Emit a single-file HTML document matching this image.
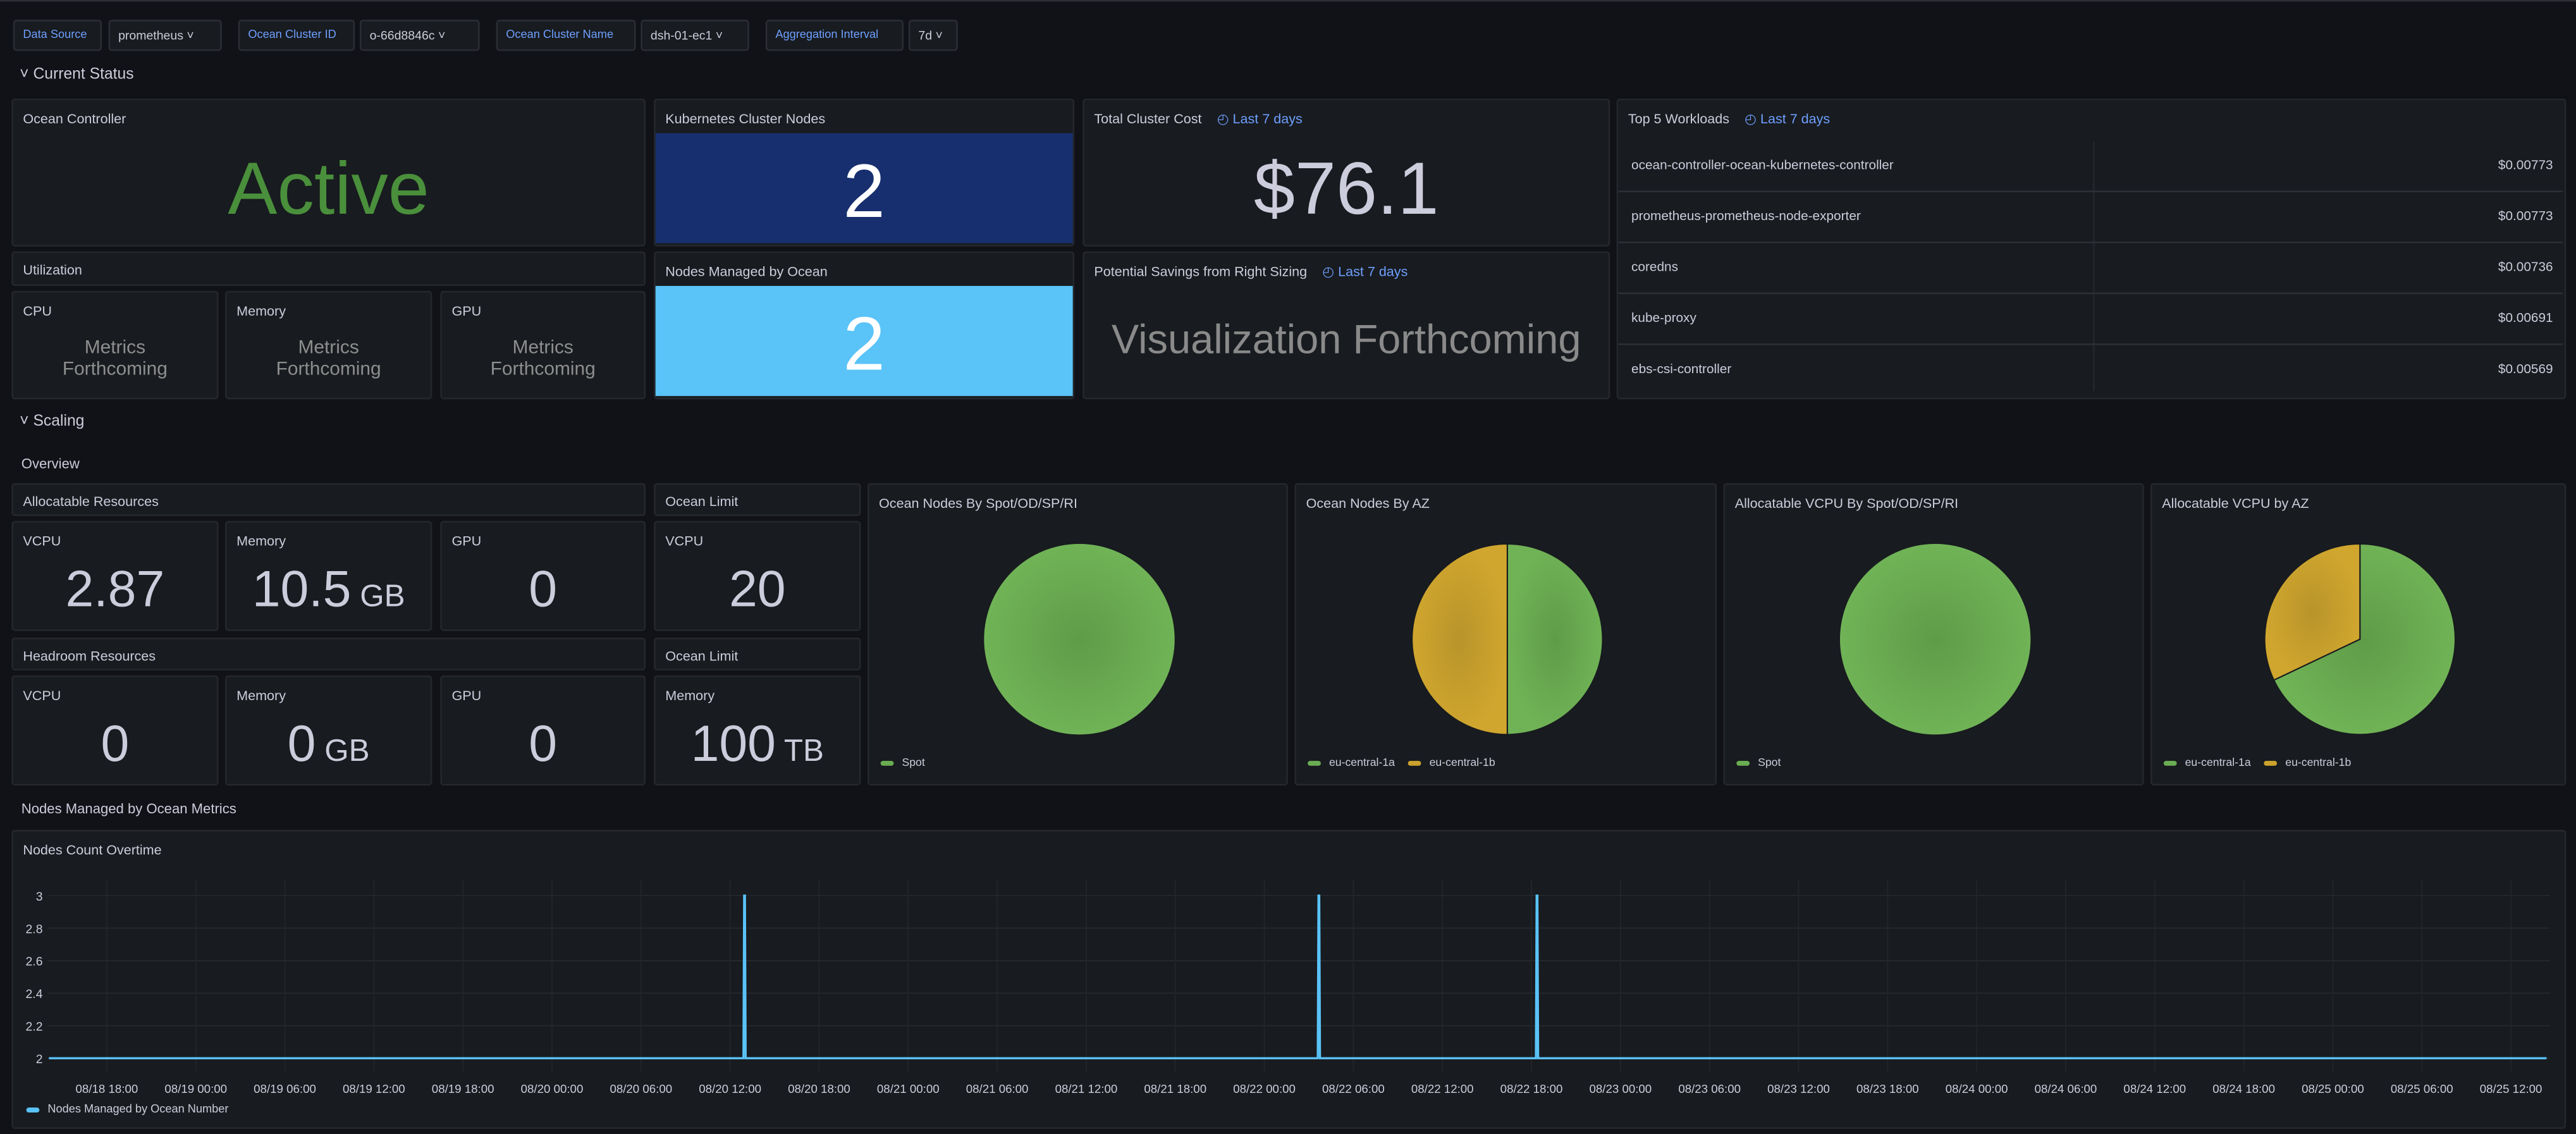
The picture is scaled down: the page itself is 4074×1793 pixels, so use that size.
<!DOCTYPE html>
<html><head><meta charset="utf-8">
<style>
html,body{margin:0;padding:0;background:#111217;width:4074px;height:1792px;overflow:hidden}
#root{position:absolute;left:0;top:0;width:1568px;height:690px;transform:scale(2.5982);transform-origin:0 0;font-family:"Liberation Sans",sans-serif;color:#ccccdc}
.p{position:absolute;background:#181b1f;border:1px solid #24272c;border-radius:2px;box-sizing:border-box}
.t{position:absolute;left:6px;top:6px;font-size:8.3px;color:#ccccdc;white-space:nowrap}
.lk{color:#6e9fff;margin-left:7px}
.v{position:absolute;left:0;right:0;text-align:center;color:#ccccdc}
.var{position:absolute;top:12px;height:19px;box-sizing:border-box;border:1px solid #2a2d33;background:#181b1f;font-size:7.5px;line-height:17px;padding:0 5px;border-radius:2px;white-space:nowrap}
.vl{color:#6e9fff;font-size:7px}
.row{position:absolute;font-size:10px;color:#ccccdc}
.sec{position:absolute;left:12px;font-size:9.5px;color:#ccccdc}
.leg{position:absolute;font-size:6.8px;color:#ccccdc;white-space:nowrap}
.sw{display:inline-block;width:8px;height:3px;border-radius:2px;margin-right:5px;vertical-align:middle}
</style></head><body>
<div id="root">
<div style="position:absolute;left:0;top:0;width:1568px;height:1px;background:#2a2d33"></div>
<div class="var vl" style="left:8px;width:54px">Data Source</div>
<div class="var" style="left:66px;width:69px">prometheus ˅</div>
<div class="var vl" style="left:145px;width:71px">Ocean Cluster ID</div>
<div class="var" style="left:219px;width:73px">o-66d8846c ˅</div>
<div class="var vl" style="left:302px;width:85px">Ocean Cluster Name</div>
<div class="var" style="left:390px;width:66px">dsh-01-ec1 ˅</div>
<div class="var vl" style="left:466px;width:84px">Aggregation Interval</div>
<div class="var" style="left:553px;width:30px">7d ˅</div>

<div class="sec" style="top:40px">˅ Current Status</div>

<div class="p" style="left:7px;top:60px;width:386px;height:90px"><div class="t">Ocean Controller</div><div class="v" style="top:28px;font-size:45px;color:#4a8f3c">Active</div></div>
<div class="p" style="left:398px;top:60px;width:256px;height:90px"><div class="t">Kubernetes Cluster Nodes</div><div style="position:absolute;left:0;right:0;top:20px;bottom:1px;background:#172f6e"></div><div class="v" style="top:28px;font-size:46px;color:#fff">2</div></div>
<div class="p" style="left:659px;top:60px;width:321px;height:90px"><div class="t">Total Cluster Cost <span class="lk">◴ Last 7 days</span></div><div class="v" style="top:28px;font-size:45px">$76.1</div></div>
<div class="p" style="left:984px;top:60px;width:578px;height:183px"><div class="t">Top 5 Workloads <span class="lk">◴ Last 7 days</span></div>
<div style="position:absolute;left:289px;top:25px;width:1px;height:152px;background:#24272c"></div>
<div id="wl"></div></div>

<div class="p" style="left:7px;top:153px;width:386px;height:21px"><div class="t" style="top:5px">Utilization</div></div>
<div class="p" style="left:7px;top:177px;width:126px;height:66px"><div class="t">CPU</div><div class="v" style="top:28px;font-size:11.5px;color:#8e8e8e;line-height:13px">Metrics<br>Forthcoming</div></div>
<div class="p" style="left:137px;top:177px;width:126px;height:66px"><div class="t">Memory</div><div class="v" style="top:28px;font-size:11.5px;color:#8e8e8e;line-height:13px">Metrics<br>Forthcoming</div></div>
<div class="p" style="left:268px;top:177px;width:125px;height:66px"><div class="t">GPU</div><div class="v" style="top:28px;font-size:11.5px;color:#8e8e8e;line-height:13px">Metrics<br>Forthcoming</div></div>
<div class="p" style="left:398px;top:153px;width:256px;height:90px"><div class="t">Nodes Managed by Ocean</div><div style="position:absolute;left:0;right:0;top:20px;bottom:1px;background:#5ac3f8"></div><div class="v" style="top:28px;font-size:46px;color:#fff">2</div></div>
<div class="p" style="left:659px;top:153px;width:321px;height:90px"><div class="t">Potential Savings from Right Sizing <span class="lk">◴ Last 7 days</span></div><div class="v" style="top:39px;font-size:25px;color:#8a8a8a">Visualization Forthcoming</div></div>

<div class="sec" style="top:251px">˅ Scaling</div>
<div class="sec" style="top:277px;left:13px;font-size:8.5px">Overview</div>

<div class="p" style="left:7px;top:294px;width:386px;height:20px"><div class="t" style="top:5px">Allocatable Resources</div></div>
<div class="p" style="left:398px;top:294px;width:126px;height:20px"><div class="t" style="top:5px">Ocean Limit</div></div>
<div class="p" style="left:7px;top:388px;width:386px;height:20px"><div class="t" style="top:5px">Headroom Resources</div></div>
<div class="p" style="left:398px;top:388px;width:126px;height:20px"><div class="t" style="top:5px">Ocean Limit</div></div>
<div id="stats"></div>

<div id="pies"></div>

<div class="sec" style="top:487px;left:13px;font-size:8.5px">Nodes Managed by Ocean Metrics</div>
<div class="p" style="left:7px;top:505px;width:1555px;height:182px"><div class="t">Nodes Count Overtime</div></div>
<svg id="chart" style="position:absolute;left:0;top:0" width="1568" height="690"></svg>
<div class="leg" style="left:16px;top:672px;font-size:7px"><span class="sw" style="background:#5ac3f8"></span>Nodes Managed by Ocean Number</div>
</div>
<script>
const wlNames=["ocean-controller-ocean-kubernetes-controller","prometheus-prometheus-node-exporter","coredns","kube-proxy","ebs-csi-controller"];
const wlVals=["$0.00773","$0.00773","$0.00736","$0.00691","$0.00569"];
const wl=document.getElementById('wl');
wlNames.forEach((n,i)=>{
  const y=25+i*31;
  const r=document.createElement('div');r.className='row';r.style.cssText=`left:0;top:${y}px;width:575px;height:31px;border-bottom:${i<4?'1px solid #2c2f35':'none'};box-sizing:border-box`;
  
  
  r.innerHTML=`<span style="position:absolute;left:8px;top:10px;font-size:8px">${n}</span><span style="position:absolute;right:6px;top:10px;font-size:8px">${wlVals[i]}</span>`;
  wl.appendChild(r);
});
const statTitles=["VCPU","Memory","GPU","VCPU","VCPU","Memory","GPU","Memory"];
const statVals=["2.87","10.5","0","20","0","0","0","100"];
const statUnits=["","GB","","","","GB","","TB"];
const sx=[7,137,268,398],sw=[126,126,125,126],sy=[317,411];
const st=document.getElementById('stats');
statTitles.forEach((t,i)=>{
  const c=i%4,r=Math.floor(i/4);
  const d=document.createElement('div');d.className='p';
  d.style.cssText=`left:${sx[c]}px;top:${sy[r]}px;width:${sw[c]}px;height:67px`;
  
  
  d.innerHTML=`<div class="t">${t}</div><div class="v" style="top:23px;font-size:31px">${statVals[i]}${statUnits[i]?'<span style="font-size:19px"> '+statUnits[i]+'</span>':''}</div>`;
  st.appendChild(d);
});
const pieTitles=["Ocean Nodes By Spot/OD/SP/RI","Ocean Nodes By AZ","Allocatable VCPU By Spot/OD/SP/RI","Allocatable VCPU by AZ"];
const pieLabels=[["Spot"],["eu-central-1a","eu-central-1b"],["Spot"],["eu-central-1a","eu-central-1b"]];
const pieValues=[[2],[1,1],[2.87],[1.95,0.92]];
const pieColors=["#6aad52","#cba22c"];
const px=[528,788,1049,1309],pw=[256,257,256,253];
const pies=document.getElementById('pies');
pieTitles.forEach((t,i)=>{
  const d=document.createElement('div');d.className='p';
  d.style.cssText=`left:${px[i]}px;top:294px;width:${pw[i]}px;height:184px`;
  
  
  const cx=pw[i]/2,cy=94,R=58;
  const tot=pieValues[i].reduce((a,b)=>a+b,0);
  let a0=0,svg=`<svg width="${pw[i]}" height="184" style="position:absolute;left:0;top:0"><defs><radialGradient id="g${i}0"><stop offset="0" stop-color="#5f9c48"/><stop offset="1" stop-color="#70b356"/></radialGradient><radialGradient id="g${i}1"><stop offset="0" stop-color="#b8942a"/><stop offset="1" stop-color="#d0a62e"/></radialGradient></defs>`;
  pieValues[i].forEach((v,k)=>{
    const a1=a0+v/tot*2*Math.PI;
    if(v/tot>=0.9999){svg+=`<circle cx="${cx}" cy="${cy}" r="${R}" fill="url(#g${i}${k})"/>`;}
    else{
      const x0=cx+R*Math.sin(a0),y0=cy-R*Math.cos(a0),x1=cx+R*Math.sin(a1),y1=cy-R*Math.cos(a1);
      svg+=`<path d="M${cx},${cy}L${x0},${y0}A${R},${R} 0 ${a1-a0>Math.PI?1:0} 1 ${x1},${y1}Z" fill="url(#g${i}${k})" stroke="#181b1f" stroke-width="0.8"/>`;
    }
    a0=a1;
  });
  svg+='</svg>';
  let leg='<div class="leg" style="left:7px;top:166px">';
  pieLabels[i].forEach((l,k)=>{leg+=`<span class="sw" style="background:${pieColors[k]}"></span><span style="margin-right:8px">${l}</span>`;});
  leg+='</div>';
  d.innerHTML=svg+`<div class="t">${t}</div>`+leg;
  pies.appendChild(d);
});
const yTicks=[2,2.2,2.4,2.6,2.8,3];
const xTickLabels=["08/18 18:00","08/19 00:00","08/19 06:00","08/19 12:00","08/19 18:00","08/20 00:00","08/20 06:00","08/20 12:00","08/20 18:00","08/21 00:00","08/21 06:00","08/21 12:00","08/21 18:00","08/22 00:00","08/22 06:00","08/22 12:00","08/22 18:00","08/23 00:00","08/23 06:00","08/23 12:00","08/23 18:00","08/24 00:00","08/24 06:00","08/24 12:00","08/24 18:00","08/25 00:00","08/25 06:00","08/25 12:00"];
const seriesHours=[-3.9,42.9,42.95,43.0,43.05,81.6,81.65,81.7,81.75,96.3,96.35,96.4,96.45,164.4];
const seriesValues=[2,2,3,3,2,2,3,3,2,2,3,3,2,2];
const X0=65,PXH=54.2/6,Y2=644,PXU=99;
const xs=h=>X0+h*PXH, ys=v=>Y2-(v-2)*PXU;
const svg=document.getElementById('chart'),NS='http://www.w3.org/2000/svg';
function el(tag,attrs){const e=document.createElementNS(NS,tag);for(const k in attrs)e.setAttribute(k,attrs[k]);svg.appendChild(e);return e;}
yTicks.forEach(v=>{
  const l=el('line',{x1:29,x2:1552,y1:ys(v),y2:ys(v),stroke:'#26292e','stroke-width':0.7});
  
  
  const t=el('text',{x:26,y:ys(v)+3,'text-anchor':'end','font-size':7.5,fill:'#ccccdc','font-family':'Liberation Sans'});
  t.textContent=String(v);
  
  
});
xTickLabels.forEach((s,i)=>{
  const x=xs(i*6);
  const l=el('line',{x1:x,x2:x,y1:535,y2:652,stroke:'#222529','stroke-width':0.7});
  
  
  const t=el('text',{x:x,y:665,'text-anchor':'middle','font-size':7.2,fill:'#ccccdc','font-family':'Liberation Sans'});
  t.textContent=s;
  
  
});
const pts=seriesHours.map((h,i)=>xs(h).toFixed(2)+','+ys(seriesValues[i]).toFixed(2)).join(' ');
const pl=el('polyline',{points:pts,fill:'none',stroke:'#5ac3f8','stroke-width':1.3});


</script>
</body></html>
